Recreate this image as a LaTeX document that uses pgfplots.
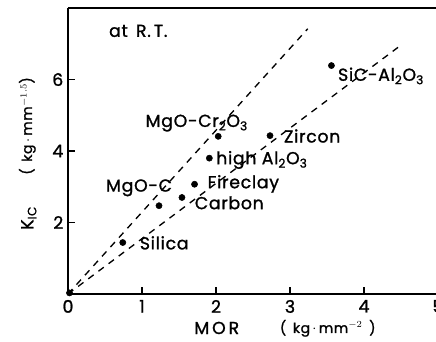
\documentclass[border=0pt]{standalone}
\usepackage{fontspec}
\setmainfont{Poppins}[FakeBold=1.2, LetterSpace=4]
\usepackage{pgfplots}
\pgfplotsset{compat=1.18}
\begin{document}
\begin{tikzpicture}
\useasboundingbox (-51pt,-36pt) rectangle (276pt,220.5pt);
\begin{axis}[
  at={(0,0)}, anchor=south west,
  scale only axis, width=277.5pt, height=214.5pt,
  xmin=0, xmax=5, ymin=0, ymax=8,
  axis lines=left, axis line style={-, line width=1.5pt},
  xtick={0,1,2,3,4,5}, ytick={2,4,6},
  tick align=inside, major tick length=5pt,
  tick style={line width=1pt, black},
  /pgf/number format/assume math mode=true,
  ticklabel style={font=\fontsize{13}{15}\selectfont},
  xticklabel style={yshift=-1pt},
  clip=false,
]
\draw[line width=1.5pt] (axis cs:0,8) -- (axis cs:5.2,8);
\addplot[black, dash pattern=on 5pt off 4.5pt, line width=1pt] coordinates {(0,0) (3.24,7.42)};
\addplot[black, dash pattern=on 5pt off 4.5pt, line width=1pt] coordinates {(0,0) (4.48,6.93)};
\addplot[only marks, mark=*, mark size=2.3pt, black] coordinates {
 (0.02,0.03) (0.74,1.44) (1.23,2.47) (1.54,2.70) (1.71,3.07) (1.91,3.80) (2.03,4.41) (2.73,4.43) (3.56,6.39)
};
\begin{scope}[every node/.style={font=\fontsize{13}{15}\selectfont, inner sep=0pt}]
\node at (axis cs:0.95,7.36) {at\, R.\,T.};
\node at (axis cs:1.30,1.43) {Silica};
\node at (axis cs:0.96,2.97) {MgO-C};
\node at (axis cs:2.18,2.55) {Carbon};
\node at (axis cs:2.37,3.08) {Fireclay};
\node at (axis cs:2.62,3.75) {high Al\textsubscript{2}O\textsubscript{3}};
\node at (axis cs:1.74,4.78) {MgO-Cr\textsubscript{2}O\textsubscript{3}};
\node at (axis cs:3.30,4.42) {Zircon};
\node at (axis cs:4.23,6.10) {SiC-Al\textsubscript{2}O\textsubscript{3}};
\node at (axis cs:2.01,-0.95) {M\,O\,R};
\node[font=\fontsize{10.5}{12}\selectfont] at (axis cs:3.51,-0.96) {(\, kg\,$\cdot$\,mm$^{-2}$\, )};
\node[rotate=90] at (axis cs:-0.53,2.13) {K\textsubscript{IC}};
\node[rotate=90, font=\fontsize{10.5}{12}\selectfont] at (axis cs:-0.55,4.7) {(\, kg\,$\cdot$\,mm$^{-1.5}$)};
\end{scope}
\end{axis}
\end{tikzpicture}
\end{document}
